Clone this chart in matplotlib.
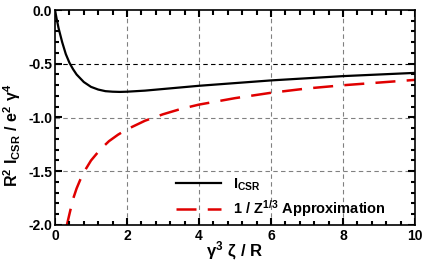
import numpy as np
import matplotlib.pyplot as plt
import matplotlib.transforms as mtransforms

plt.rcParams['font.family'] = 'Liberation Sans'
plt.rcParams['font.weight'] = 'bold'
plt.rcParams['mathtext.fontset'] = 'custom'
plt.rcParams['mathtext.rm'] = 'Liberation Sans:bold'
plt.rcParams['mathtext.it'] = 'Liberation Sans:bold'
plt.rcParams['mathtext.bf'] = 'Liberation Sans:bold'

# exact CSR curve
x_csr = [0, 0.05, 0.1, 0.2, 0.3, 0.4, 0.5, 0.6, 0.8, 1.0, 1.2, 1.4, 1.6, 1.8,
         2.0, 2.5, 3.0, 4.0, 5.0, 6.0, 7.0, 8.0, 9.0, 10.0]
y_csr = [0, -0.09, -0.17, -0.30, -0.41, -0.49, -0.55, -0.60, -0.67, -0.715,
         -0.74, -0.755, -0.76, -0.762, -0.76, -0.75, -0.735, -0.705, -0.68,
         -0.655, -0.635, -0.615, -0.60, -0.585]

# 1/Z^(1/3) approximation
x_app = [0.31, 0.4, 0.5, 0.6, 0.7, 0.8, 1.0, 1.25, 1.5, 1.75, 2.0, 2.5, 3.0,
         3.5, 4.0, 5.0, 6.0, 7.0, 8.0, 9.0, 10.0]
y_app = [-2.03, -1.90, -1.76, -1.66, -1.58, -1.51, -1.40, -1.30, -1.22, -1.16,
         -1.11, -1.03, -0.97, -0.92, -0.88, -0.82, -0.77, -0.73, -0.70,
         -0.675, -0.65]

xticks = [0, 2, 4, 6, 8, 10]
xticklabels = ['0', '2', '4', '6', '8', '10']
yticks = [0, -0.5, -1, -1.5, -2]
yticklabels = ['0.0', '-0.5', '-1.0', '-1.5', '-2.0']

W, H = 429, 267
ax_w, ax_h = 360, 215
fig = plt.figure(figsize=(W/100, H/100), dpi=100)
ax = fig.add_axes([55/W, 42/H, ax_w/W, ax_h/H])

for gx in [2, 4, 6, 8]:
    ax.axvline(gx, color='#808080', lw=0.8, ls=(0, (4, 3)), zorder=1)
for gy in [-1.0, -1.5]:
    ax.axhline(gy, color='#808080', lw=0.8, ls=(0, (4, 3)), zorder=1)
ax.axhline(-0.5, color='black', lw=0.8, ls=(0, (4, 3)), zorder=1)

ax.plot(x_csr, y_csr, color='black', lw=1.6, label=r'$\mathrm{I_{CSR}}$', zorder=3)
ax.plot(x_app, y_app, color='#e00000', lw=1.8, ls=(0, (8, 4.5)),
        label=r'$\mathrm{1\ /\ Z^{1/3}}$ Approximation', zorder=3)

ax.set_xlim(0, 10)
ax.set_ylim(-2, 0)
ax.set_xticks(xticks)
ax.set_xticklabels(xticklabels)
ax.set_yticks(yticks)
ax.set_yticklabels(yticklabels)
ax.tick_params(length=0, labelsize=10)
ax.tick_params(axis='x', pad=3)
ax.tick_params(axis='y', pad=2)
for s in ax.spines.values():
    s.set_linewidth(1.2)
    s.set_zorder(5)

# inward tick marks on all four sides
minor_x = np.arange(0, 10.01, 0.4)
minor_y = np.arange(-2, 0.01, 0.1)
maj_x = [x for x in minor_x if any(abs(x - t) < 1e-6 for t in xticks)]
min_x = [x for x in minor_x if not any(abs(x - t) < 1e-6 for t in xticks)]
maj_y = [y for y in minor_y if any(abs(y - t) < 1e-6 for t in yticks)]
min_y = [y for y in minor_y if not any(abs(y - t) < 1e-6 for t in yticks)]
tx = mtransforms.blended_transform_factory(ax.transData, ax.transAxes)
ty = mtransforms.blended_transform_factory(ax.transAxes, ax.transData)
for xs, L in [(maj_x, 7), (min_x, 4.5)]:
    f = L / ax_h
    ax.vlines(xs, 0, f, colors='black', linewidth=1.5, transform=tx, zorder=6)
    ax.vlines(xs, 1 - f, 1, colors='black', linewidth=1.5, transform=tx, zorder=6)
for ys, L in [(maj_y, 7), (min_y, 4.5)]:
    f = L / ax_w
    ax.hlines(ys, 0, f, colors='black', linewidth=1.5, transform=ty, zorder=6)
    ax.hlines(ys, 1 - f, 1, colors='black', linewidth=1.5, transform=ty, zorder=6)

ax.set_xlabel(r'$\gamma^3\ \zeta\ /\ \mathrm{R}$', fontsize=12)
ax.xaxis.set_label_coords(0.5, -0.118)
ax.xaxis.label.set_va('center')
ax.set_ylabel(r'$\mathrm{R^2\ I_{CSR}\ /\ e^2\ }\gamma^4$', fontsize=11.5)
ax.yaxis.set_label_coords(-0.118, 0.42)
ax.yaxis.label.set_va('center')

leg = ax.legend(loc='lower left', bbox_to_anchor=(0.30, -0.035), frameon=False,
                fontsize=10.5, handlelength=3.1, labelspacing=0.4)

fig.savefig('out.png', dpi=100)
